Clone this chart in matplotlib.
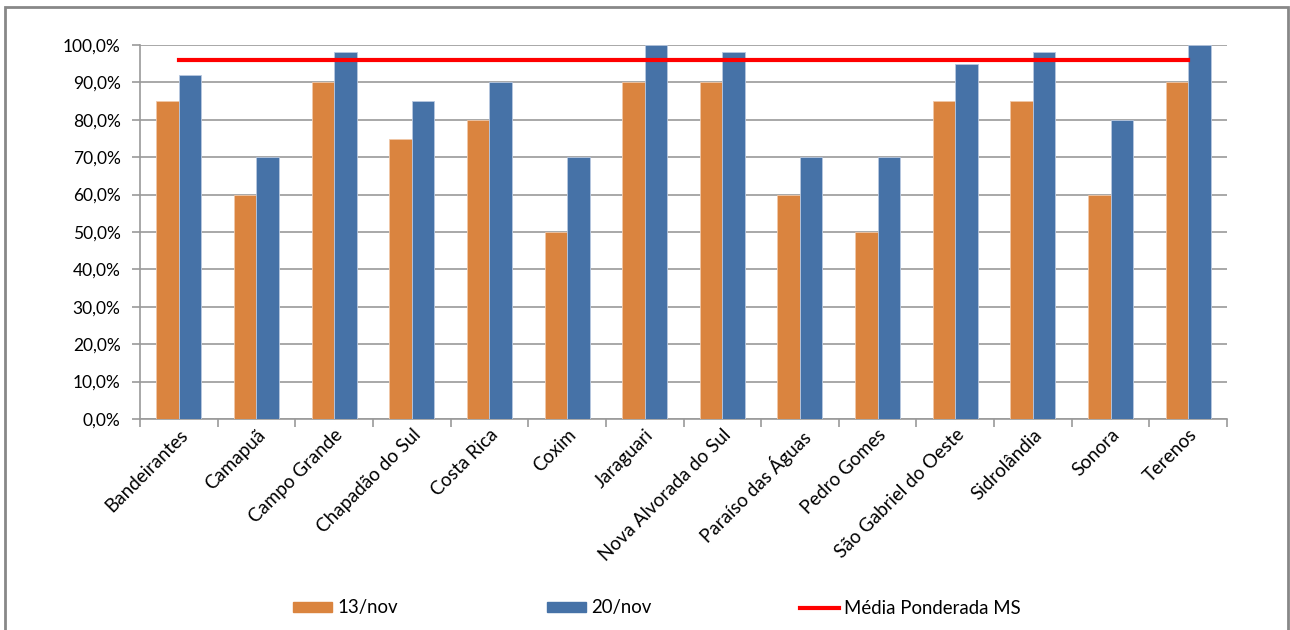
import numpy as np
import matplotlib.pyplot as plt
from matplotlib.patches import Rectangle
from matplotlib.lines import Line2D
from matplotlib.ticker import FuncFormatter, FixedLocator

plt.rcParams['font.family'] = ['Lato', 'DejaVu Sans']

municipios = ['Bandeirantes', 'Camapuã', 'Campo Grande', 'Chapadão do Sul',
              'Costa Rica', 'Coxim', 'Jaraguari', 'Nova Alvorada do Sul',
              'Paraíso das Águas', 'Pedro Gomes', 'São Gabriel do Oeste',
              'Sidrolândia', 'Sonora', 'Terenos']
nov13 = [85, 60, 90, 75, 80, 50, 90, 90, 60, 50, 85, 85, 60, 90]
nov20 = [92, 70, 98, 85, 90, 70, 100, 98, 70, 70, 95, 98, 80, 100]
media_ms = 96

laranja = '#DA843F'
azul = '#4672A7'
cinza = '#9A9A9A'

fig = plt.figure(figsize=(12.9, 6.3), dpi=100)
ax = fig.add_axes([140/1290, 1 - 419/630, (1227-140)/1290, (419-45)/630])

x = np.arange(len(municipios))
w = 0.29
ax.bar(x - w/2, nov13, w, color=laranja, edgecolor='#F0C8A8', linewidth=0.6, zorder=3)
ax.bar(x + w/2, nov20, w, color=azul, edgecolor='#B8C8E0', linewidth=0.6, zorder=3)
ax.plot(x, [media_ms]*len(x), color='#FF0000', lw=3, zorder=4)

ax.set_xlim(-0.5, len(x) - 0.5)
ax.set_ylim(0, 100)
ax.set_yticks(np.arange(0, 101, 10))
ax.yaxis.set_major_formatter(FuncFormatter(lambda v, p: f'{v:.1f}%'.replace('.', ',')))
ax.yaxis.grid(True, color=cinza, lw=1.2, zorder=0)
ax.set_axisbelow(True)

ax.set_xticks(x)
ax.set_xticklabels(municipios, rotation=45, ha='right', rotation_mode='anchor', fontsize=13.5)
ax.xaxis.set_minor_locator(FixedLocator(np.arange(-0.5, len(x), 1)))
ax.tick_params(axis='x', which='major', length=0, pad=5)
ax.tick_params(axis='x', which='minor', length=6, color=cinza, width=1.2)
ax.tick_params(axis='y', length=6, color=cinza, width=1.2, labelsize=12.5, pad=8)

for s in ['top', 'right']:
    ax.spines[s].set_visible(False)
for s in ['left', 'bottom']:
    ax.spines[s].set_color(cinza)
    ax.spines[s].set_linewidth(1.2)

handles = [Rectangle((0, 0), 1, 1, color=laranja),
           Rectangle((0, 0), 1, 1, color=azul),
           Line2D([], [], color='#FF0000', lw=3)]
fig.legend(handles, ['13/nov', '20/nov', 'Média Ponderada MS'], ncol=3,
           loc='center', bbox_to_anchor=(657/1290, 1 - 608/630), frameon=False,
           fontsize=13.4, handlelength=2.1, handleheight=0.5, handletextpad=0.27,
           columnspacing=8.0)

fig.patches.append(Rectangle((5/1290, -0.05), 1283/1290, 1 - 7/630 + 0.05,
                             transform=fig.transFigure, fill=False,
                             edgecolor='#888888', lw=2))

fig.savefig('out.png', dpi=100)
